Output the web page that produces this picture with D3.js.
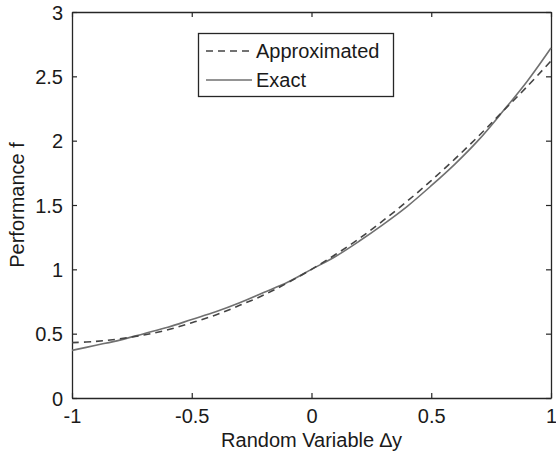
<!DOCTYPE html>
<html>
<head>
<meta charset="utf-8">
<script src="https://cdn.jsdelivr.net/npm/d3@7"></script>
<style>
  html, body { margin: 0; padding: 0; background: #fff; }
  svg { display: block; font-family: "Liberation Sans", Arial, sans-serif; }
</style>
</head>
<body>
<svg id="chart" width="556" height="453"></svg>
<script>
// Random variable values along the horizontal axis
const dy = [-1, -0.9, -0.8, -0.7, -0.6, -0.5, -0.4, -0.3, -0.2, -0.1, 0,
            0.1, 0.2, 0.3, 0.4, 0.5, 0.6, 0.7, 0.8, 0.9, 1];
// Exact performance
const exactF = [0.37, 0.41, 0.45, 0.50, 0.55, 0.61, 0.67, 0.74, 0.82, 0.90, 1.00,
                1.10, 1.22, 1.35, 1.49, 1.65, 1.82, 2.01, 2.23, 2.46, 2.72];
// Approximated performance
const approxF = [0.43, 0.44, 0.46, 0.49, 0.53, 0.585, 0.645, 0.72, 0.80, 0.895, 1.00,
                 1.115, 1.24, 1.38, 1.53, 1.69, 1.86, 2.04, 2.23, 2.42, 2.62];
const xTicks = [-1, -0.5, 0, 0.5, 1];
const yTicks = [0, 0.5, 1, 1.5, 2, 2.5, 3];
const seriesNames = ["Approximated", "Exact"];

const svg = d3.select("#chart");
const plotLeft = 72, plotRight = 551, plotTop = 12, plotBottom = 398;

const x = d3.scaleLinear().domain([-1, 1]).range([plotLeft, plotRight]);
const y = d3.scaleLinear().domain([0, 3]).range([plotBottom, plotTop]);

const axisColor = "#262626";
const fontSize = 20;

// Axes with inward ticks on all four sides
const fmt = d => String(d);
const gx = svg.append("g").attr("transform", `translate(0,${plotBottom})`)
  .call(d3.axisBottom(x).tickValues(xTicks).tickFormat(fmt).tickSizeInner(-5).tickSizeOuter(0).tickPadding(9));
const gxTop = svg.append("g").attr("transform", `translate(0,${plotTop})`)
  .call(d3.axisTop(x).tickValues(xTicks).tickFormat("").tickSizeInner(-5).tickSizeOuter(0));
const gy = svg.append("g").attr("transform", `translate(${plotLeft},0)`)
  .call(d3.axisLeft(y).tickValues(yTicks).tickFormat(fmt).tickSizeInner(-5).tickSizeOuter(0).tickPadding(9));
const gyRight = svg.append("g").attr("transform", `translate(${plotRight},0)`)
  .call(d3.axisRight(y).tickValues(yTicks).tickFormat("").tickSizeInner(-5).tickSizeOuter(0));

[gx, gxTop, gy, gyRight].forEach(g => {
  g.selectAll(".domain").attr("stroke", axisColor).attr("stroke-width", 1.3);
  g.selectAll(".tick line").attr("stroke", axisColor).attr("stroke-width", 1.2);
  g.selectAll(".tick text").attr("fill", "#1a1a1a").attr("font-size", fontSize)
    .attr("font-family", "'Liberation Sans', Arial, sans-serif");
});
gx.selectAll(".tick text").attr("dy", "0.78em");
gy.selectAll(".tick text").attr("dy", "0.36em");

// Curves
const line = vals => d3.line()
  .x((d, i) => x(dy[i]))
  .y(d => y(d))
  .curve(d3.curveCatmullRom)(vals);

svg.append("path").attr("d", line(exactF))
  .attr("fill", "none").attr("stroke", "#707070").attr("stroke-width", 1.6);
svg.append("path").attr("d", line(approxF))
  .attr("fill", "none").attr("stroke", "#444").attr("stroke-width", 1.6)
  .attr("stroke-dasharray", "7,5");

// Axis titles
svg.append("text").attr("x", (plotLeft + plotRight) / 2).attr("y", 447)
  .attr("text-anchor", "middle").attr("font-size", fontSize).attr("fill", "#1a1a1a")
  .text("Random Variable \u2206y");
svg.append("text").attr("transform", `translate(24,${(plotTop + plotBottom) / 2}) rotate(-90)`)
  .attr("text-anchor", "middle").attr("font-size", fontSize).attr("fill", "#1a1a1a")
  .text("Performance f");

// Legend
const lg = svg.append("g");
lg.append("rect").attr("x", 198.5).attr("y", 33.5).attr("width", 195).attr("height", 63)
  .attr("fill", "#fff").attr("stroke", axisColor).attr("stroke-width", 1.3);
const legendStyles = [
  { stroke: "#444", dash: "7,5", y: 51 },
  { stroke: "#707070", dash: null, y: 80 }
];
seriesNames.forEach((name, i) => {
  const s = legendStyles[i];
  lg.append("line").attr("x1", 206).attr("x2", 252).attr("y1", s.y).attr("y2", s.y)
    .attr("stroke", s.stroke).attr("stroke-width", 1.6)
    .attr("stroke-dasharray", s.dash);
  lg.append("text").attr("x", 256).attr("y", s.y + 7).attr("font-size", fontSize)
    .attr("fill", "#1a1a1a").text(name);
});
</script>
</body>
</html>
